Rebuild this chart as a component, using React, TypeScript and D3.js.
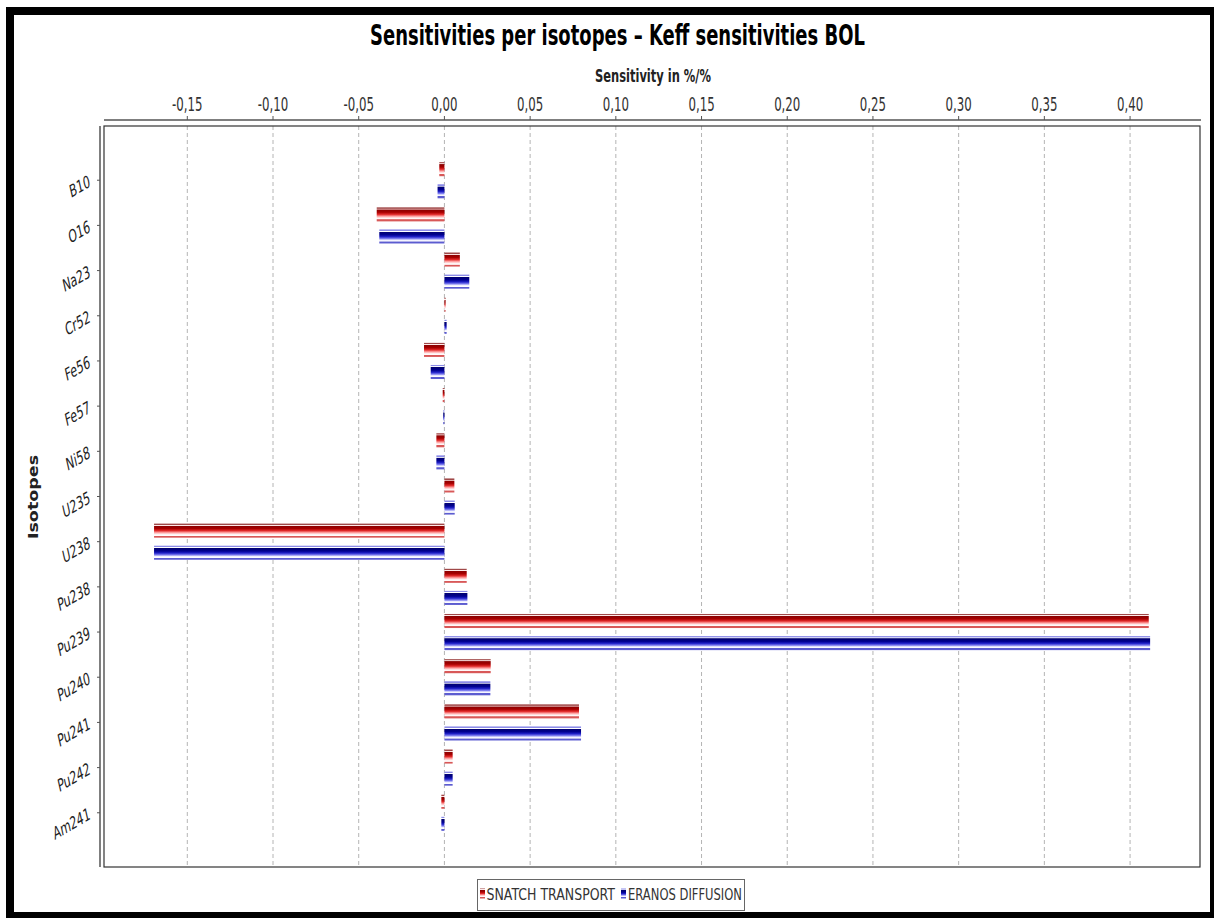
import React from "react";
import * as d3 from "d3";

const categories = ["B10", "O16", "Na23", "Cr52", "Fe56", "Fe57", "Ni58", "U235", "U238", "Pu238", "Pu239", "Pu240", "Pu241", "Pu242", "Am241"];
const snatchTransport = [-0.003, -0.0395, 0.009, 0.0007, -0.0119, -0.001, -0.0047, 0.0058, -0.1694, 0.013, 0.4109, 0.027, 0.0785, 0.0048, -0.0018];
const eranosDiffusion = [-0.004, -0.038, 0.0145, 0.0013, -0.008, -0.0007, -0.0047, 0.006, -0.1694, 0.0134, 0.4117, 0.0268, 0.0797, 0.0048, -0.0018];
const seriesNames = ["SNATCH TRANSPORT", "ERANOS DIFFUSION"];
const xTicks = [-0.15, -0.1, -0.05, 0, 0.05, 0.1, 0.15, 0.2, 0.25, 0.3, 0.35, 0.4];
const xDomain = [-0.1986, 0.4408];
const title = "Sensitivities per isotopes \u2013 Keff sensitivities BOL";
const xAxisTitle = "Sensitivity in %/%";
const yAxisTitle = "Isotopes";

const W = 1214;
const H = 918;
const PL = 104, PR = 1200, PT = 126, PB = 867;
const SX = 0.62;
const FONT = "'DejaVu Sans', 'Liberation Sans', sans-serif";

const locale = d3.formatLocale({ decimal: ",", thousands: ".", grouping: [3], currency: ["", ""], minus: "-" });
const fmt = locale.format(".2f");

export default function App() {
  const x = d3.scaleLinear().domain(xDomain).range([PL, PR]);
  const y = d3.scaleBand<string>().domain(categories).range([PT, PB]).paddingInner(0.2).paddingOuter(0.8);
  const ys = d3.scaleBand<number>().domain([0, 1]).range([0, y.bandwidth()]).paddingInner(0.364);
  const series = [snatchTransport, eranosDiffusion];
  const grads = ["gradRed", "gradBlue"];

  return (
    <svg width={W} height={H} style={{ position: "absolute", left: 0, top: 0, background: "#fff" }} xmlns="http://www.w3.org/2000/svg">
      <defs>
        <linearGradient id="gradRed" x1="0" y1="0" x2="0" y2="1">
          <stop offset="0" stopColor="#a04848" />
          <stop offset="0.08" stopColor="#a04848" />
          <stop offset="0.1" stopColor="#ffe8e8" />
          <stop offset="0.14" stopColor="#ffe8e8" />
          <stop offset="0.17" stopColor="#8b0000" />
          <stop offset="0.35" stopColor="#a80000" />
          <stop offset="0.5" stopColor="#e02828" />
          <stop offset="0.64" stopColor="#ffa0a0" />
          <stop offset="0.76" stopColor="#fff0f0" />
          <stop offset="0.85" stopColor="#ffffff" />
          <stop offset="0.87" stopColor="#d85858" />
          <stop offset="1" stopColor="#d85858" />
        </linearGradient>
        <linearGradient id="gradBlue" x1="0" y1="0" x2="0" y2="1">
          <stop offset="0" stopColor="#8c8ce8" />
          <stop offset="0.09" stopColor="#8c8ce8" />
          <stop offset="0.11" stopColor="#ffffff" />
          <stop offset="0.15" stopColor="#ffffff" />
          <stop offset="0.18" stopColor="#000070" />
          <stop offset="0.38" stopColor="#000090" />
          <stop offset="0.52" stopColor="#2020c8" />
          <stop offset="0.66" stopColor="#8080f0" />
          <stop offset="0.76" stopColor="#f0f0ff" />
          <stop offset="0.85" stopColor="#ffffff" />
          <stop offset="0.87" stopColor="#5c5cd0" />
          <stop offset="1" stopColor="#5c5cd0" />
        </linearGradient>
      </defs>

      {/* title */}
      <text transform={`translate(${W / 2 + 10.5},45) scale(${SX},1)`} textAnchor="middle" fontFamily={FONT} fontWeight="bold" fontSize={29} fill="#000">{title}</text>
      {/* x axis title */}
      <text transform={`translate(653,82) scale(${SX},1)`} textAnchor="middle" fontFamily={FONT} fontWeight="bold" fontSize={18.5} fill="#222">{xAxisTitle}</text>
      {/* y axis title */}
      <text transform={`translate(38,497) scale(0.78,1) rotate(-90)`} textAnchor="middle" fontFamily={FONT} fontWeight="bold" fontSize={17.5} fill="#222">{yAxisTitle}</text>

      {/* gridlines */}
      {xTicks.map((t) => (
        <line key={"g" + t} x1={x(t)} x2={x(t)} y1={PT} y2={PB} stroke="#b4b4b4" strokeWidth={1} strokeDasharray="4,3" />
      ))}

      {/* top axis */}
      <line x1={PL} x2={PR + 1} y1={120} y2={120} stroke="#555" strokeWidth={1.5} />
      {xTicks.map((t) => (
        <g key={"t" + t}>
          <line x1={x(t)} x2={x(t)} y1={116} y2={120} stroke="#555" strokeWidth={1} />
          <text transform={`translate(${x(t)},111) scale(${SX},1)`} textAnchor="middle" fontFamily={FONT} fontSize={19} fill="#333">{fmt(t)}</text>
        </g>
      ))}

      {/* left axis */}
      <line x1={100} x2={100} y1={PT} y2={PB} stroke="#555" strokeWidth={1.5} />
      {categories.map((c) => {
        const cy = (y(c) as number) + y.bandwidth() / 2;
        return (
          <g key={"c" + c}>
            <line x1={97} x2={100} y1={cy} y2={cy} stroke="#555" strokeWidth={1} />
            <text transform={`translate(91,${cy + 6}) scale(${SX},1) rotate(-20)`} textAnchor="end" fontFamily={FONT} fontSize={17.5} fill="#222">{c}</text>
          </g>
        );
      })}

      {/* bars */}
      {series.map((vals, si) =>
        vals.map((v, i) => {
          const c = categories[i];
          const by = (y(c) as number) + (ys(si) as number);
          const x0 = x(Math.min(0, v));
          const x1 = x(Math.max(0, v));
          return <rect key={si + "-" + c} x={x0} y={by} width={Math.max(0.8, x1 - x0)} height={ys.bandwidth()} fill={`url(#${grads[si]})`} />;
        })
      )}

      {/* plot frame */}
      <rect x={PL} y={PT} width={PR - PL} height={PB - PT} fill="none" stroke="#333" strokeWidth={1.2} />

      {/* legend */}
      <rect x={477.5} y={879.5} width={267} height={31} fill="#fff" stroke="#666" strokeWidth={1} />
      <rect x={480} y={888.5} width={5} height={10} fill="url(#gradRed)" />
      <text x={486.5} y={900} fontFamily={FONT} fontSize={15} fill="#333" textLength={128.5} lengthAdjust="spacingAndGlyphs">{seriesNames[0]}</text>
      <rect x={621} y={888.5} width={5} height={10} fill="url(#gradBlue)" />
      <text x={628} y={900} fontFamily={FONT} fontSize={15} fill="#333" textLength={114} lengthAdjust="spacingAndGlyphs">{seriesNames[1]}</text>

      {/* outer border */}
      <rect x={10} y={11} width={1204} height={905} fill="none" stroke="#000" strokeWidth={8} />
    </svg>
  );
}
